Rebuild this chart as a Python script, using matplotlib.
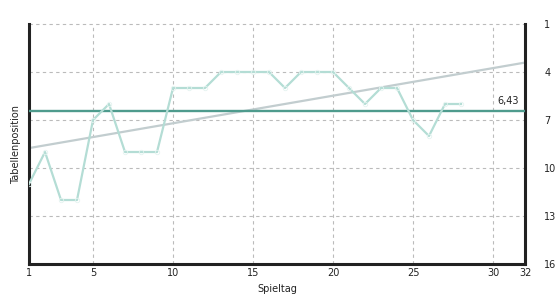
import numpy as np
import matplotlib
matplotlib.use("Agg")
import matplotlib.pyplot as plt

spieltage = list(range(1, 29))
positions = [11, 9, 12, 12, 7, 6, 9, 9, 9, 5, 5, 5, 4, 4, 4, 4, 5, 4, 4, 4, 5, 6, 5, 5, 7, 8, 6, 6]
x_ticks = [1, 5, 10, 15, 20, 25, 30, 32]
y_ticks = [1, 4, 7, 10, 13, 16]
mean_label = "6,43"

fig = plt.figure(figsize=(5.59, 2.99), dpi=100)
ax = fig.add_axes([29/559, 35/299, 496/559, 240/299])

x = np.array(spieltage, dtype=float)
y = np.array(positions, dtype=float)
mean = y.mean()
k, d = np.polyfit(x, y, 1)
xt = np.array([1, 32], dtype=float)

ax.plot(xt, k * xt + d, color="#c2cdcf", lw=1.6, zorder=2, solid_capstyle="butt")
ax.axhline(mean, color="#4e9b8d", lw=1.7, zorder=3)
ax.plot(x, y, color="#b4ddd5", lw=1.6, zorder=4, marker="o", ms=3.2,
        mfc="none", mec="#e4f3f0", mew=0.6)
ax.text(31.6, mean - 0.3, mean_label, ha="right", va="bottom", fontsize=7, color="#222222")

ax.set_xlim(1, 32)
ax.set_ylim(16, 1)
ax.set_xticks(x_ticks)
ax.set_yticks(y_ticks)
ax.yaxis.tick_right()
ax.tick_params(axis="both", length=0, labelsize=7, colors="#222222")
ax.tick_params(axis="y", pad=14)
ax.tick_params(axis="x", pad=3)

for xv in [5, 10, 15, 20, 25, 30]:
    ax.axvline(xv, color="#bbbbbb", lw=0.8, ls=(0, (3, 3)), zorder=1)
for yv in [1, 4, 7, 10, 13]:
    ax.axhline(yv, color="#bbbbbb", lw=0.8, ls=(0, (3, 3)), zorder=1, clip_on=False)

for s in ["left", "right", "bottom"]:
    ax.spines[s].set_color("#222222")
    ax.spines[s].set_linewidth(2.2)
ax.spines["top"].set_visible(False)

ax.set_xlabel("Spieltag", fontsize=7, color="#222222", labelpad=4)
ax.set_ylabel("Tabellenposition", fontsize=7, color="#222222", labelpad=6)
ax.yaxis.set_label_position("left")

fig.savefig("out.png", dpi=100)
